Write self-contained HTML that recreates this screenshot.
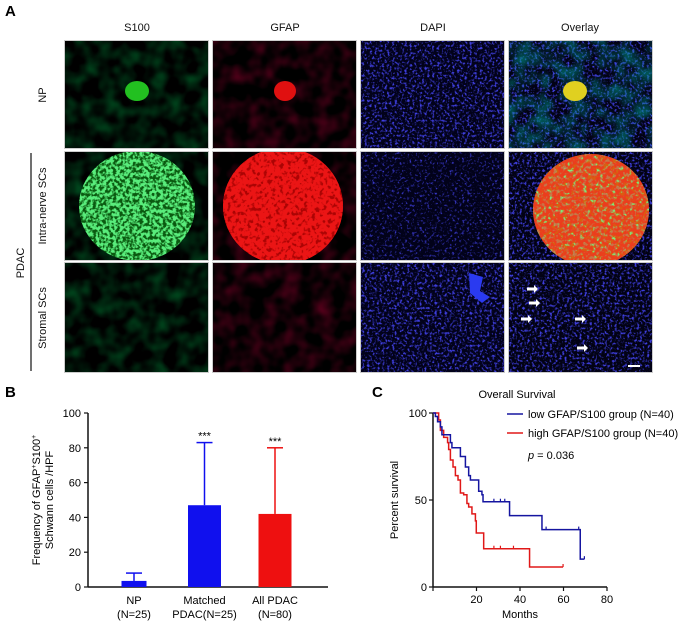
<!DOCTYPE html>
<html><head><meta charset="utf-8"><style>
html,body{margin:0;padding:0;background:#fff;}
svg{display:block;font-family:"Liberation Sans",Arial,sans-serif;}
</style></head><body>
<svg id="fig" width="689" height="626" viewBox="0 0 689 626" xmlns="http://www.w3.org/2000/svg">
<defs>
 <filter id="fBlue" x="0" y="0" width="1" height="1"><feTurbulence type="fractalNoise" baseFrequency="0.4" numOctaves="2" seed="3"/><feColorMatrix type="matrix" values="0 0 0 0 0.05 0 0 0 0 0.05 0 0 0 0 0.75 4 0 0 0 -2.0"/></filter>
 <filter id="fBlueDim" x="0" y="0" width="1" height="1"><feTurbulence type="fractalNoise" baseFrequency="0.4" numOctaves="2" seed="7"/><feColorMatrix type="matrix" values="0 0 0 0 0.04 0 0 0 0 0.04 0 0 0 0 0.6 4 0 0 0 -2.2"/></filter>
 <filter id="fGreen" x="0" y="0" width="1" height="1"><feTurbulence type="fractalNoise" baseFrequency="0.3" numOctaves="2" seed="5"/><feColorMatrix type="matrix" values="0 0 0 0 0.1 0 0 0 0 0.85 0 0 0 0 0.2 5 0 0 0 -1.9"/></filter>
 <filter id="fRed" x="0" y="0" width="1" height="1"><feTurbulence type="fractalNoise" baseFrequency="0.25" numOctaves="2" seed="9"/><feColorMatrix type="matrix" values="0 0 0 0 0.95 0 0 0 0 0.02 0 0 0 0 0.02 6 0 0 0 -1.9"/></filter>
 <filter id="fGreenOv" x="0" y="0" width="1" height="1"><feTurbulence type="fractalNoise" baseFrequency="0.3" numOctaves="2" seed="11"/><feColorMatrix type="matrix" values="0 0 0 0 0.2 0 0 0 0 0.85 0 0 0 0 0.2 6 0 0 0 -3.0"/></filter>
 <filter id="fFaint" x="0" y="0" width="1" height="1"><feTurbulence type="fractalNoise" baseFrequency="0.06" numOctaves="2" seed="2"/><feColorMatrix type="matrix" values="0 0 0 0 0 0 0 0 0 0.18 0 0 0 0 0.03 1.2 0 0 0 -0.45"/></filter>
 <filter id="fFaintR" x="0" y="0" width="1" height="1"><feTurbulence type="fractalNoise" baseFrequency="0.06" numOctaves="2" seed="4"/><feColorMatrix type="matrix" values="0 0 0 0 0.2 0 0 0 0 0 0 0 0 0 0.02 1.2 0 0 0 -0.45"/></filter>
 <filter id="fFaintG" x="0" y="0" width="1" height="1"><feTurbulence type="fractalNoise" baseFrequency="0.06" numOctaves="2" seed="6"/><feColorMatrix type="matrix" values="0 0 0 0 0 0 0 0 0 0.3 0 0 0 0 0.25 1.2 0 0 0 -0.4"/></filter>
</defs>

<text x="5" y="16" font-size="15" font-weight="bold">A</text>
<g font-size="11" text-anchor="middle" fill="#111">
 <text x="137" y="31">S100</text>
 <text x="285" y="31">GFAP</text>
 <text x="433" y="31">DAPI</text>
 <text x="580" y="31">Overlay</text>
 <text transform="translate(46,95) rotate(-90)">NP</text>
 <text transform="translate(46,206) rotate(-90)">Intra-nerve SCs</text>
 <text transform="translate(46,318) rotate(-90)">Stromal SCs</text>
 <text transform="translate(24,263) rotate(-90)">PDAC</text>
</g>
<line x1="31" y1="153" x2="31" y2="371" stroke="#111" stroke-width="1.2"/>

<g id="images"></g>

<text x="5" y="397" font-size="15" font-weight="bold">B</text>
<g id="barchart"></g>
<text x="372" y="397" font-size="15" font-weight="bold">C</text>
<g id="kmchart"></g>
</svg>
<script>
// ---- Bar chart data ----
const barCategories = [["NP","(N=25)"],["Matched","PDAC(N=25)"],["All PDAC","(N=80)"]];
const barMeans = [3.5, 47, 42];
const barErrTops = [8, 83, 80];
const barColors = ["#1010ee","#1010ee","#ee1010"];
const barSig = ["", "***", "***"];
const barYTicks = [0,20,40,60,80,100];
// ---- KM data ----
const lowTimes = [0,1.1,2.1,3.4,4.1,8,8.7,12.6,14.9,16.4,17.2,21,22.5,23,35.2,50.1,67.7];
const lowSurv  = [100,98,95,92,87.5,83,80,75,69,64,61.5,55,53,49,41,33,16];
const lowEnd = 69.6;
const lowCensor = [28,31,33,52,67,69.6];
const highTimes = [0,2.6,3.4,4.9,6.7,7.2,8,9.2,10.3,11.5,12.6,14.1,15.6,16.4,17.9,19.5,19.9,23.3,44.4];
const highSurv  = [100,96,90,86,83,79,73,69,64,61.5,54,53,48,46,42,38,31,22,11.5];
const highEnd = 59.8;
const highCensor = [28,31,37,59.8];
const kmXTicks = [20,40,60,80];
const kmYTicks = [0,50,100];

const NS="http://www.w3.org/2000/svg";
function mk(tag, attrs, parent, txt){const e=document.createElementNS(NS,tag);for(const k in attrs)e.setAttribute(k,attrs[k]);if(txt!==undefined)e.textContent=txt;parent.appendChild(e);return e;}

// ---- Images ----
const img=document.getElementById('images');
const cols=[65,213,361,509], rows=[41,152,263], W=143, H=[107,108,109];
for(let r=0;r<3;r++)for(let c=0;c<4;c++){
  const x=cols[c],y=rows[r],h=H[r];
  const g=mk('g',{},img);
  
  
  const cid='clip'+r+c;
  const cp=mk('clipPath',{id:cid},g); mk('rect',{x:x,y:y,width:W,height:h},cp);
  const inner=mk('g',{'clip-path':'url(#'+cid+')'},g);
  mk('rect',{x:x,y:y,width:W,height:h,fill:'#000'},inner);
  if(c===0){
    mk('rect',{x:x,y:y,width:W,height:h,filter:'url(#fFaint)'},inner);
    if(r===0){mk('ellipse',{cx:x+72,cy:y+50,rx:12,ry:10,fill:'#22c020'},inner);}
    if(r===1){mk('ellipse',{cx:x+72,cy:y+54,rx:58,ry:55,fill:'#0a5a10'},inner);
      const cp2=mk('clipPath',{id:'e1'},inner);mk('ellipse',{cx:x+72,cy:y+54,rx:58,ry:55},cp2);
      mk('rect',{x:x,y:y,width:W,height:h,filter:'url(#fGreen)','clip-path':'url(#e1)'},inner);}
  }
  if(c===1){
    mk('rect',{x:x,y:y,width:W,height:h,filter:'url(#fFaintR)'},inner);
    if(r===0){mk('ellipse',{cx:x+72,cy:y+50,rx:11,ry:10,fill:'#e01010'},inner);}
    if(r===1){mk('ellipse',{cx:x+70,cy:y+54,rx:60,ry:58,fill:'#6a0000'},inner);
      const cp2=mk('clipPath',{id:'e2'},inner);mk('ellipse',{cx:x+70,cy:y+54,rx:60,ry:58},cp2);
      mk('rect',{x:x,y:y,width:W,height:h,filter:'url(#fRed)','clip-path':'url(#e2)'},inner);
      mk('ellipse',{cx:x+70,cy:y+54,rx:60,ry:58,fill:'#e00808','fill-opacity':'0.55'},inner);}
  }
  if(c===2){
    mk('rect',{x:x,y:y,width:W,height:h,fill:'#02021a'},inner);
    mk('rect',{x:x,y:y,width:W,height:h,filter:(r===1?'url(#fBlueDim)':'url(#fBlue)')},inner);
    if(r===2){mk('path',{d:`M${x+108} ${y+10} l14 4 l-3 14 l10 6 l-8 6 l-12 -10 z`,fill:'#2a3af0'},inner);}
  }
  if(c===3){
    mk('rect',{x:x,y:y,width:W,height:h,fill:'#020214'},inner);
    mk('rect',{x:x,y:y,width:W,height:h,filter:'url(#fBlue)'},inner);
    if(r===0){mk('rect',{x:x,y:y,width:W,height:h,filter:'url(#fFaintG)'},inner);
      mk('ellipse',{cx:x+66,cy:y+50,rx:12,ry:10,fill:'#e0d020'},inner);}
    if(r===1){mk('ellipse',{cx:x+82,cy:y+58,rx:58,ry:56,fill:'#d86010'},inner);
      const cp2=mk('clipPath',{id:'e3'},inner);mk('ellipse',{cx:x+82,cy:y+58,rx:58,ry:56},cp2);
      mk('rect',{x:x,y:y,width:W,height:h,filter:'url(#fGreenOv)','clip-path':'url(#e3)'},inner);
      mk('rect',{x:x,y:y,width:W,height:h,filter:'url(#fRed)','clip-path':'url(#e3)',opacity:'0.6'},inner);}
    if(r===2){
      const arrows=[[18,26],[20,40],[12,56],[66,56],[68,85]];
      arrows.forEach((a,i)=>{const p=mk('path',{d:`M${x+a[0]} ${y+a[1]-1.5} h7 v-2.5 l4 4 l-4 4 v-2.5 h-7 z`,fill:'#fff'},inner);
        
        });
      mk('rect',{x:x+119,y:y+102,width:12,height:2,fill:'#fff'},inner);
    }
  }
  mk('rect',{x:x-0.5,y:y-0.5,width:W+1,height:h+1,fill:'none',stroke:'#ccc','stroke-width':'1'},g);
}

// ---- Bar chart ----
const bc=document.getElementById('barchart');
const bx0=88,bx1=328,by0=587,by1=413;
const yB=v=>by0-(v/100)*(by0-by1);
function xBar(i){return bx0+46+i*70.5;}
mk('line',{x1:bx0,y1:by0,x2:bx0,y2:by1,stroke:'#111','stroke-width':'1.5'},bc);
mk('line',{x1:bx0,y1:by0,x2:bx1,y2:by0,stroke:'#111','stroke-width':'1.5'},bc);
barYTicks.forEach(t=>{
  mk('line',{x1:bx0-4,y1:yB(t),x2:bx0,y2:yB(t),stroke:'#111','stroke-width':'1.2'},bc);
  const tl=mk('text',{x:bx0-7,y:yB(t)+4,'font-size':'11','text-anchor':'end'},bc,String(t));
  
  
});
barMeans.forEach((v,i)=>{
  const cx=xBar(i), w=(i===0?25:33);
  const b=mk('rect',{x:cx-w/2,y:yB(v),width:w,height:by0-yB(v),fill:barColors[i]},bc);
  
  
  mk('line',{x1:cx,y1:yB(v),x2:cx,y2:yB(barErrTops[i]),stroke:barColors[i],'stroke-width':'1.5'},bc);
  mk('line',{x1:cx-8,y1:yB(barErrTops[i]),x2:cx+8,y2:yB(barErrTops[i]),stroke:barColors[i],'stroke-width':'1.5'},bc);
  if(barSig[i]){const s=mk('text',{x:cx,y:yB(barErrTops[i])-3,'font-size':'11','text-anchor':'middle'},bc,barSig[i]);
    
    }
  const l1=mk('text',{x:cx,y:604,'font-size':'11','text-anchor':'middle'},bc,barCategories[i][0]);
  
  
  mk('text',{x:cx,y:618,'font-size':'11','text-anchor':'middle'},bc,barCategories[i][1]);
});
const yt=mk('text',{transform:'translate(40,500) rotate(-90)','font-size':'11','text-anchor':'middle'},bc);


yt.innerHTML='Frequency of GFAP<tspan dy="-4" font-size="7">+</tspan><tspan dy="4">S100</tspan><tspan dy="-4" font-size="7">+</tspan>';
mk('text',{transform:'translate(53,500) rotate(-90)','font-size':'11','text-anchor':'middle'},bc,'Schwann cells /HPF');

// ---- KM chart ----
const kc=document.getElementById('kmchart');
const kx0=433,kx1=607,ky0=587,ky1=413;
const xK=t=>kx0+t/80*(kx1-kx0);
const yK=s=>ky0-s/100*(ky0-ky1);
mk('line',{x1:kx0,y1:ky0,x2:kx0,y2:ky1,stroke:'#111','stroke-width':'1.5'},kc);
mk('line',{x1:kx0,y1:ky0,x2:kx1,y2:ky0,stroke:'#111','stroke-width':'1.5'},kc);
kmYTicks.forEach(t=>{mk('line',{x1:kx0-4,y1:yK(t),x2:kx0,y2:yK(t),stroke:'#111','stroke-width':'1.2'},kc);
  const l=mk('text',{x:kx0-6,y:yK(t)+4,'font-size':'11','text-anchor':'end'},kc,String(t));
  
  });
[0].concat(kmXTicks).forEach(t=>{mk('line',{x1:xK(t),y1:ky0,x2:xK(t),y2:ky0+4,stroke:'#111','stroke-width':'1.2'},kc);});
kmXTicks.forEach(t=>{const l=mk('text',{x:xK(t),y:603,'font-size':'11','text-anchor':'middle'},kc,String(t));
  
  });
function stepPath(ts,ss,end){let d=`M${xK(ts[0])} ${yK(ss[0])}`;
  for(let i=1;i<ts.length;i++){d+=` H${xK(ts[i])} V${yK(ss[i])}`;} d+=` H${xK(end)}`;return d;}
function survAt(ts,ss,t){let s=ss[0];for(let i=0;i<ts.length;i++)if(ts[i]<=t)s=ss[i];return s;}
const hp=mk('path',{d:stepPath(highTimes,highSurv,highEnd),fill:'none',stroke:'#e01818','stroke-width':'1.5'},kc);


const lp=mk('path',{d:stepPath(lowTimes,lowSurv,lowEnd),fill:'none',stroke:'#1515a0','stroke-width':'1.5'},kc);


highCensor.forEach(t=>{const s=survAt(highTimes,highSurv,t);mk('line',{x1:xK(t),y1:yK(s)-3,x2:xK(t),y2:yK(s),stroke:'#e01818','stroke-width':'1.2'},kc);});
lowCensor.forEach(t=>{const s=survAt(lowTimes,lowSurv,t);mk('line',{x1:xK(t),y1:yK(s)-3,x2:xK(t),y2:yK(s),stroke:'#1515a0','stroke-width':'1.2'},kc);});
const tt=mk('text',{x:517,y:398,'font-size':'11','text-anchor':'middle'},kc,'Overall Survival');


const xl=mk('text',{x:520,y:618,'font-size':'11','text-anchor':'middle'},kc,'Months');


const yl=mk('text',{transform:'translate(398,500) rotate(-90)','font-size':'11','text-anchor':'middle'},kc,'Percent survival');


const lg1=mk('g',{},kc);


mk('line',{x1:507,y1:414,x2:523,y2:414,stroke:'#1515a0','stroke-width':'1.5'},lg1);
mk('text',{x:528,y:418,'font-size':'11'},lg1,'low GFAP/S100 group  (N=40)');
const lg2=mk('g',{},kc);


mk('line',{x1:507,y1:433,x2:523,y2:433,stroke:'#e01818','stroke-width':'1.5'},lg2);
mk('text',{x:528,y:437,'font-size':'11'},lg2,'high GFAP/S100 group (N=40)');
const pv=mk('text',{x:528,y:459,'font-size':'11'},kc);


pv.innerHTML='<tspan font-style="italic">p</tspan> = 0.036';
</script>
</body></html>
